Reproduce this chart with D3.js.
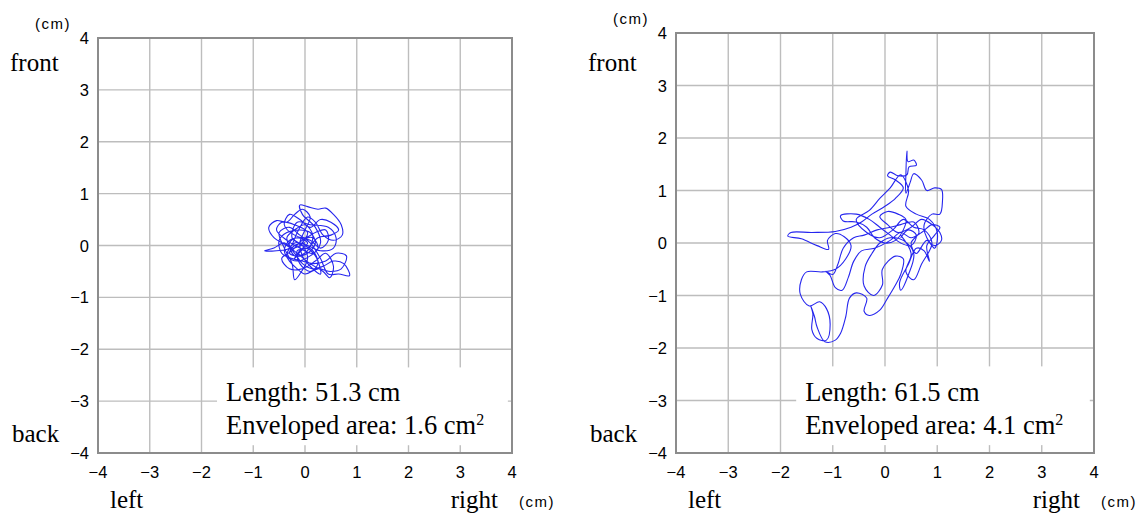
<!DOCTYPE html>
<html>
<head>
<meta charset="utf-8">
<script src="https://cdn.jsdelivr.net/npm/d3@7"></script>
<style>
  body { margin: 0; background: #fff; }
  svg { display: block; }
</style>
</head>
<body>
<div id="chart"></div>
<script>
// axis ticks (cm)
const tickValues = [-4, -3, -2, -1, 0, 1, 2, 3, 4];
// summary values per panel
const lengths = [51.3, 61.5];
const areas = [1.6, 4.1];

// sway trajectory, left panel (x, y in cm)
const pathA = [
  [-0.10,0.00],[0.05,0.25],[-0.20,0.40],[-0.45,0.45],[-0.55,0.30],[-0.35,0.10],[-0.10,-0.05],[0.15,-0.15],
  [0.30,0.05],[0.20,0.35],[-0.05,0.60],[-0.10,0.78],[0.05,0.75],[0.25,0.70],[0.40,0.72],[0.55,0.60],
  [0.70,0.40],[0.72,0.20],[0.55,0.10],[0.35,0.20],[0.20,0.45],[0.05,0.55],[-0.15,0.25],[-0.30,-0.05],
  [-0.55,-0.10],[-0.78,-0.10],[-0.60,-0.05],[-0.40,0.05],[-0.20,-0.15],[-0.05,-0.35],[0.15,-0.45],[0.35,-0.40],
  [0.55,-0.30],[0.75,-0.35],[0.86,-0.58],[0.65,-0.55],[0.45,-0.55],[0.30,-0.25],[0.10,0.05],[-0.10,0.20],
  [-0.30,0.35],[-0.50,0.25],[-0.40,-0.05],[-0.25,-0.35],[-0.20,-0.66],[-0.10,-0.55],[0.05,-0.25],[-0.05,0.00],
  [-0.25,0.15],[-0.15,0.45],[0.10,0.40],[0.45,0.35],[0.60,0.15],[0.55,-0.05],[0.30,-0.10],[0.05,0.00],
  [-0.20,0.05],[-0.35,-0.20],[-0.15,-0.30],[0.10,-0.20],[0.25,-0.05],[0.15,0.15],[-0.05,0.10],[-0.25,-0.10],
  [-0.45,-0.25],[-0.30,-0.45],[-0.05,-0.45],[0.20,-0.30],[0.40,-0.15],[0.55,-0.40],[0.48,-0.62],[0.35,-0.50],
  [0.10,-0.35],[-0.15,-0.15],[-0.35,0.00],[-0.60,0.15],[-0.70,0.35],[-0.55,0.48],[-0.35,0.45],[-0.20,0.60],
  [-0.05,0.70],[0.10,0.55],[0.00,0.30],[-0.10,0.05],[-0.05,-0.20],[0.10,-0.40],[0.30,-0.55],[0.20,-0.20],
  [0.00,-0.05],[-0.20,-0.25],[-0.10,-0.10],[0.05,0.05],[-0.15,0.15],[-0.30,0.05],[-0.20,-0.20],[0.05,-0.15],
  [0.20,0.05],[0.10,0.25],[-0.10,0.30],[-0.35,0.25],[-0.50,0.10],[-0.45,-0.15],[-0.25,-0.25],[-0.05,-0.30],
  [0.15,-0.35],[0.40,-0.30],[0.60,-0.15],[0.80,-0.20],[0.70,-0.45],[0.50,-0.50],[0.25,-0.45],[0.00,-0.55],
  [-0.15,-0.45],[-0.30,-0.30],[-0.40,-0.10],[-0.30,0.10],[-0.10,0.15],[0.10,0.10],[0.30,-0.05],[0.45,0.10],
  [0.40,0.30],[0.20,0.25],[0.00,0.15],[-0.20,0.20],[-0.40,0.40],[-0.30,0.60],[-0.10,0.50],[0.10,0.35],
  [0.30,0.50],[0.50,0.45],[0.65,0.30],[0.50,0.20],[0.25,0.15],[0.05,-0.05],[-0.15,-0.10],[-0.10,-0.35],
  [0.10,-0.50],[0.25,-0.35],[0.15,-0.10],[-0.05,0.00],[-0.25,-0.05],[-0.35,0.15],[-0.20,0.30],[0.00,0.40],
  [0.15,0.20],[0.05,-0.10],[-0.15,-0.20],[-0.30,-0.15],[-0.20,0.00],[0.00,0.05]
];

// sway trajectory, right panel (x, y in cm)
const pathB = [
  [0.30,0.10],[0.45,0.25],[0.60,0.15],[0.50,-0.05],[0.30,0.00],[0.10,0.15],[-0.10,0.30],[-0.30,0.45],
  [-0.55,0.55],[-0.85,0.52],[-0.80,0.42],[-0.55,0.40],[-0.35,0.30],[-0.20,0.10],[0.00,0.00],[0.20,0.05],
  [0.35,0.25],[0.40,0.45],[0.25,0.55],[0.05,0.60],[-0.10,0.50],[0.05,0.35],[0.25,0.20],[0.50,0.30],
  [0.70,0.45],[0.90,0.35],[1.05,0.20],[1.08,0.05],[0.95,-0.05],[0.80,0.10],[0.75,0.35],[0.90,0.55],
  [1.05,0.55],[1.10,0.80],[1.08,1.02],[0.95,1.05],[0.80,1.00],[0.70,1.20],[0.55,1.32],[0.48,1.15],
  [0.40,0.95],[0.40,1.30],[0.42,1.75],[0.44,1.55],[0.55,1.58],[0.60,1.48],[0.46,1.45],[0.42,1.30],
  [0.25,1.28],[0.10,1.35],[0.05,1.28],[0.20,1.20],[0.35,1.05],[0.20,0.85],[0.00,0.70],[-0.25,0.55],
  [-0.45,0.40],[-0.65,0.30],[-0.95,0.22],[-1.40,0.20],[-1.80,0.20],[-1.86,0.13],[-1.60,0.08],[-1.30,-0.05],
  [-1.08,-0.12],[-1.10,0.05],[-0.95,0.18],[-0.78,0.12],[-0.65,-0.05],[-0.75,-0.30],[-0.95,-0.50],[-1.20,-0.55],
  [-1.50,-0.55],[-1.60,-0.70],[-1.62,-0.98],[-1.45,-1.20],[-1.25,-1.12],[-1.12,-1.25],[-1.05,-1.55],[-1.12,-1.85],
  [-1.30,-1.82],[-1.40,-1.65],[-1.38,-1.35],[-1.42,-1.20],[-1.35,-1.40],[-1.30,-1.60],[-1.15,-1.88],[-0.95,-1.85],
  [-0.85,-1.72],[-0.75,-1.40],[-0.68,-1.05],[-0.55,-0.95],[-0.35,-1.05],[-0.40,-1.30],[-0.30,-1.38],[-0.10,-1.28],
  [0.05,-1.05],[0.20,-0.80],[0.30,-0.60],[0.35,-0.30],[0.20,-0.25],[-0.05,-0.50],[-0.05,-0.80],[-0.22,-1.00],
  [-0.40,-0.82],[-0.38,-0.45],[-0.25,-0.20],[-0.10,0.00],[0.10,0.10],[0.35,0.05],[0.55,-0.20],[0.45,-0.60],
  [0.30,-0.90],[0.28,-0.75],[0.45,-0.40],[0.60,-0.10],[0.75,-0.15],[0.85,-0.35],[0.80,-0.05],[0.95,0.15],
  [1.05,0.30],[0.90,0.35],[0.70,0.20],[0.50,0.10],[0.30,0.20],[0.10,0.05],[-0.20,-0.10],[-0.45,-0.15],
  [-0.60,-0.35],[-0.70,-0.65],[-0.82,-0.90],[-0.95,-0.85],[-1.05,-0.62],[-1.13,-0.54],[-1.00,-0.60],[-0.90,-0.40],
  [-0.80,-0.10],[-0.60,0.10],[-0.40,0.15],[-0.15,0.25],[0.10,0.30],[0.30,0.35],[0.55,0.40],[0.65,0.20],
  [0.50,0.00],[0.60,-0.20],[0.80,0.05],[0.95,-0.10],[1.00,0.20],[0.85,0.45],[0.60,0.55],[0.40,0.70],
  [0.45,1.00],[0.30,1.30],[0.10,1.05],[-0.10,0.85],[-0.30,0.62],[-0.55,0.45],[-0.35,0.20],[-0.10,0.10],
  [0.15,0.25],[0.35,0.45],[0.55,0.30],[0.75,0.25],[0.90,0.00],[0.70,-0.40],[0.55,-0.70],[0.40,-0.55],
  [0.50,-0.20],[0.30,0.15]
];

const W = 1139, H = 513;
const svg = d3.select("#chart").append("svg")
  .attr("width", W).attr("height", H);

const serif = "'Liberation Serif', 'Times New Roman', serif";
const sans = "'Liberation Sans', 'DejaVu Sans', sans-serif";

const panels = [
  { x0: 98, x1: 512, y0: 38, y1: 453, path: pathA, length: lengths[0], area: areas[0] },
  { x0: 676, x1: 1094, y0: 33, y1: 453, path: pathB, length: lengths[1], area: areas[1] }
];

const fmt = d3.format("d");

panels.forEach(function(p) {
  const x = d3.scaleLinear().domain([-4, 4]).range([p.x0, p.x1]);
  const y = d3.scaleLinear().domain([-4, 4]).range([p.y1, p.y0]);
  const g = svg.append("g");

  // grid
  g.selectAll("line.vx").data(tickValues).enter().append("line")
    .attr("x1", d => x(d)).attr("x2", d => x(d))
    .attr("y1", p.y0).attr("y2", p.y1)
    .attr("stroke", "#bdbdbd").attr("stroke-width", 1.4);
  g.selectAll("line.hy").data(tickValues).enter().append("line")
    .attr("y1", d => y(d)).attr("y2", d => y(d))
    .attr("x1", p.x0).attr("x2", p.x1)
    .attr("stroke", "#bdbdbd").attr("stroke-width", 1.4);

  // trajectory
  const line = d3.line().x(d => x(d[0])).y(d => y(d[1])).curve(d3.curveCatmullRom.alpha(0.5));
  g.append("path").datum(p.path)
    .attr("d", line)
    .attr("fill", "none")
    .attr("stroke", "#2626ee")
    .attr("stroke-width", 1.1)
    .attr("stroke-linejoin", "round");

  // annotation box (covers grid)
  const bx = x(-1.7), by = y(-2.35);
  g.append("rect")
    .attr("x", bx).attr("y", by)
    .attr("width", x(3.92) - bx).attr("height", y(-3.85) - by)
    .attr("fill", "#fff");

  // plot frame
  g.append("rect")
    .attr("x", p.x0).attr("y", p.y0)
    .attr("width", p.x1 - p.x0).attr("height", p.y1 - p.y0)
    .attr("fill", "none").attr("stroke", "#8c8c8c").attr("stroke-width", 2);

  // tick labels
  g.selectAll("text.yt").data(tickValues).enter().append("text")
    .attr("x", p.x0 - 9).attr("y", d => y(d) + 6)
    .attr("text-anchor", "end")
    .style("font-family", sans).style("font-size", "16.5px").attr("fill", "#000")
    .text(d => fmt(d));
  g.selectAll("text.xt").data(tickValues).enter().append("text")
    .attr("x", d => x(d)).attr("y", p.y1 + 25)
    .attr("text-anchor", "middle")
    .style("font-family", sans).style("font-size", "16.5px").attr("fill", "#000")
    .text(d => fmt(d));

  // direction labels
  const lab = (t, xx, yy, anchor) => g.append("text")
    .attr("x", xx).attr("y", yy).attr("text-anchor", anchor || "start")
    .style("font-family", serif).style("font-size", "25px").attr("fill", "#000")
    .text(t);
  lab("front", p.x0 - 88, 71);
  lab("back", p.x0 - 86, 442);
  lab("left", p.x0 + 12, 508);
  lab("right", p.x1 - 14, 508, "end");

  // units
  const unit = (xx, yy) => g.append("text")
    .attr("x", xx).attr("y", yy)
    .style("font-family", sans).style("font-size", "15px").style("letter-spacing", "1.5px")
    .attr("fill", "#000")
    .text("(cm)");
  unit(p.x0 - 63, p.y0 - 9);
  unit(p.x1 + 7, 507);

  // annotation text
  const tx = bx + 9;
  g.append("text").attr("x", tx).attr("y", 401)
    .style("font-family", serif).style("font-size", "26.5px").attr("fill", "#000")
    .text("Length: " + p.length + " cm");
  const t2 = g.append("text").attr("x", tx).attr("y", 434)
    .style("font-family", serif).style("font-size", "26.5px").attr("fill", "#000");
  t2.append("tspan").text("Enveloped area: " + p.area + " cm");
  t2.append("tspan").attr("dy", -9).style("font-size", "16px").text("2");
});
</script>
</body>
</html>
